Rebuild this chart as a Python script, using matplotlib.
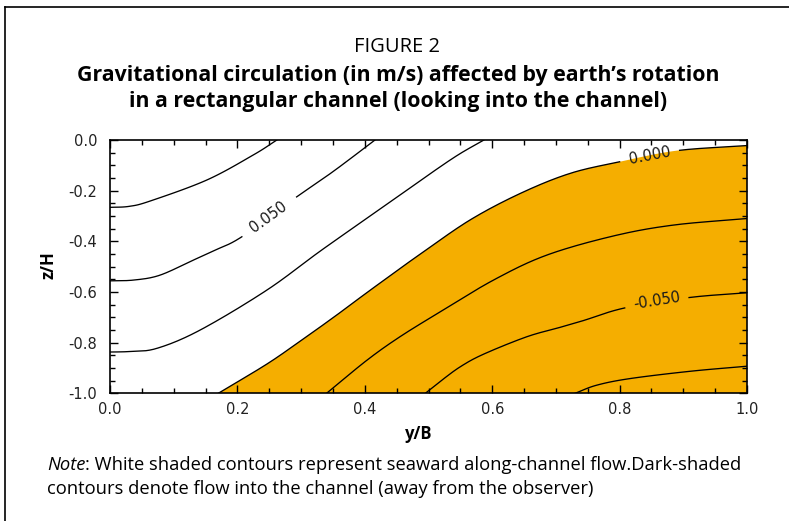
import numpy as np
import matplotlib
matplotlib.use('Agg')
import matplotlib.pyplot as plt
from matplotlib.lines import Line2D
from matplotlib.ticker import MultipleLocator

plt.rcParams['axes.unicode_minus'] = False

# Contour traces: (y/B, z/H) points along each level
level_075_y = [0.0, 0.030, 0.063, 0.152, 0.225, 0.262]
level_075_z = [-0.266, -0.262, -0.241, -0.158, -0.059, 0.0]

level_050_y = [0.0, 0.037, 0.078, 0.131, 0.165, 0.207, 0.290, 0.350, 0.416]
level_050_z = [-0.556, -0.553, -0.534, -0.474, -0.435, -0.382, -0.230, -0.125, 0.0]

level_025_y = [0.0, 0.030, 0.073, 0.141, 0.246, 0.332, 0.429, 0.534, 0.587]
level_025_z = [-0.837, -0.835, -0.823, -0.751, -0.593, -0.435, -0.264, -0.079, 0.0]

level_000_y = [0.170, 0.246, 0.298, 0.351, 0.403, 0.455, 0.489, 0.565, 0.644,
               0.722, 0.800, 0.890, 1.0]
level_000_z = [-1.0, -0.885, -0.795, -0.700, -0.603, -0.508, -0.447, -0.316, -0.211,
               -0.132, -0.086, -0.042, -0.022]

level_m025_y = [0.340, 0.403, 0.455, 0.518, 0.602, 0.685, 0.790, 0.884, 1.0]
level_m025_z = [-1.0, -0.870, -0.777, -0.679, -0.553, -0.455, -0.379, -0.336, -0.310]

level_m050_y = [0.495, 0.520, 0.550, 0.586, 0.654, 0.706, 0.743, 0.808, 0.909, 1.0]
level_m050_z = [-1.0, -0.950, -0.895, -0.846, -0.777, -0.740, -0.713, -0.663, -0.622, -0.603]

level_m075_y = [0.730, 0.764, 0.816, 0.911, 1.0]
level_m075_z = [-1.0, -0.968, -0.942, -0.913, -0.893]

ORANGE = '#F5AE00'

fig = plt.figure(figsize=(7.89, 5.21), dpi=100)
ax = fig.add_axes([0.1394, 0.2451, 0.8074, 0.4862])
ax.set_xlim(0, 1)
ax.set_ylim(-1, 0)


def smooth_trace(y, z, n=24):
    """Catmull-Rom curve through the traced points (in pixel space)."""
    pts = ax.transData.transform(np.c_[y, z])
    P = np.vstack([2 * pts[0] - pts[1], pts, 2 * pts[-1] - pts[-2]])
    t = np.linspace(0, 1, n, endpoint=False)[:, None]
    out = []
    for i in range(1, len(P) - 2):
        p0, p1, p2, p3 = P[i - 1], P[i], P[i + 1], P[i + 2]
        out.append(0.5 * (2 * p1 + (p2 - p0) * t
                          + (2 * p0 - 5 * p1 + 4 * p2 - p3) * t ** 2
                          + (3 * p1 - p0 - 3 * p2 + p3) * t ** 3))
    out.append(P[-2][None])
    return ax.transData.inverted().transform(np.vstack(out))


def draw_level(y, z, label=None, at=None, gap=30):
    """Draw a contour trace, leaving a gap with the level label at `at`."""
    yz = smooth_trace(y, z)
    yy, zz = yz[:, 0].copy(), yz[:, 1].copy()
    if label is not None:
        c = ax.transData.transform(at)
        dp = ax.transData.transform(yz) - c
        inside = np.hypot(dp[:, 0], dp[:, 1]) < gap
        idx = np.where(inside)[0]
        p0 = ax.transData.transform(yz[idx[0] - 1])
        p1 = ax.transData.transform(yz[idx[-1] + 1])
        ang = np.degrees(np.arctan2(p1[1] - p0[1], p1[0] - p0[0]))
        yy[inside] = np.nan
        zz[inside] = np.nan
        ax.text(at[0], at[1], label, rotation=ang, rotation_mode='anchor',
                ha='center', va='center', fontsize=10.5, color='#1a1a1a',
                family='DejaVu Sans', zorder=4)
    ax.plot(yy, zz, color='black', lw=0.95, zorder=3)


# shaded region: flow into the channel (negative values)
edge = smooth_trace(level_000_y, level_000_z)
ax.fill(np.r_[edge[:, 0], 1.0], np.r_[edge[:, 1], -1.0],
        color=ORANGE, lw=0, zorder=1)

draw_level(level_075_y, level_075_z)
draw_level(level_050_y, level_050_z, '0.050', (0.249, -0.304), gap=33)
draw_level(level_025_y, level_025_z)
draw_level(level_000_y, level_000_z, '0.000', (0.848, -0.062), gap=29)
draw_level(level_m025_y, level_m025_z)
draw_level(level_m050_y, level_m050_z, '-0.050', (0.858, -0.636), gap=32)
draw_level(level_m075_y, level_m075_z)

ax.set_xticks(np.arange(0, 1.01, 0.2))
ax.set_yticks(np.arange(-1.0, 0.01, 0.2))
ax.xaxis.set_minor_locator(MultipleLocator(0.05))
ax.yaxis.set_minor_locator(MultipleLocator(0.05))
ax.xaxis.set_major_formatter(lambda v, p: f'{v + 0.0:.1f}'.replace('-0.0', '0.0'))
ax.yaxis.set_major_formatter(lambda v, p: f'{v + 0.0:.1f}'.replace('-0.0', '0.0'))
ax.tick_params(which='both', direction='in', top=True, right=True,
               width=1.0, color='black', labelsize=10.5, labelcolor='#222222')
ax.tick_params(which='major', length=6)
ax.tick_params(which='minor', length=3.5)
ax.tick_params(axis='y', pad=9)
ax.tick_params(axis='x', pad=6)
for sp in ax.spines.values():
    sp.set_linewidth(1.2)
    sp.set_zorder(5)

ax.set_xlabel('y/B', fontsize=12, fontweight='bold', family='Open Sans')
ax.set_ylabel('z/H', fontsize=12, fontweight='bold', family='Open Sans')
ax.xaxis.set_label_coords(0.484, -0.125)
ax.yaxis.set_label_coords(-0.083, 0.507)

# titles
fig.text(0.503, 0.910, 'FIGURE 2', ha='center', va='center',
         fontsize=14.5, family='Open Sans')
fig.text(0.505, 0.855, 'Gravitational circulation (in m/s) affected by earth\u2019s rotation',
         ha='center', va='center', fontsize=15.3, fontweight='bold', family='Open Sans')
fig.text(0.505, 0.806, 'in a rectangular channel (looking into the channel)',
         ha='center', va='center', fontsize=15.3, fontweight='bold', family='Open Sans')

# note
t = fig.text(0.0596, 0.107, 'Note', ha='left', va='center', fontsize=13.2,
             style='italic', family='Open Sans')
ax.annotate(': White shaded contours represent seaward along-channel flow.Dark-shaded',
            xy=(1, 0), xycoords=t, ha='left', va='bottom', fontsize=13.2,
            family='Open Sans', annotation_clip=False)
fig.text(0.0596, 0.061, 'contours denote flow into the channel (away from the observer)',
         ha='left', va='center', fontsize=13.2, family='Open Sans')

# outer frame (open at right and bottom, as in the source page)
fig.add_artist(Line2D([0.0063, 1.0], [0.9866, 0.9866], transform=fig.transFigure,
                      color='black', lw=1.2))
fig.add_artist(Line2D([0.0063, 0.0063], [0.0, 0.9866], transform=fig.transFigure,
                      color='black', lw=1.2))

fig.savefig('out.png', dpi=100)
